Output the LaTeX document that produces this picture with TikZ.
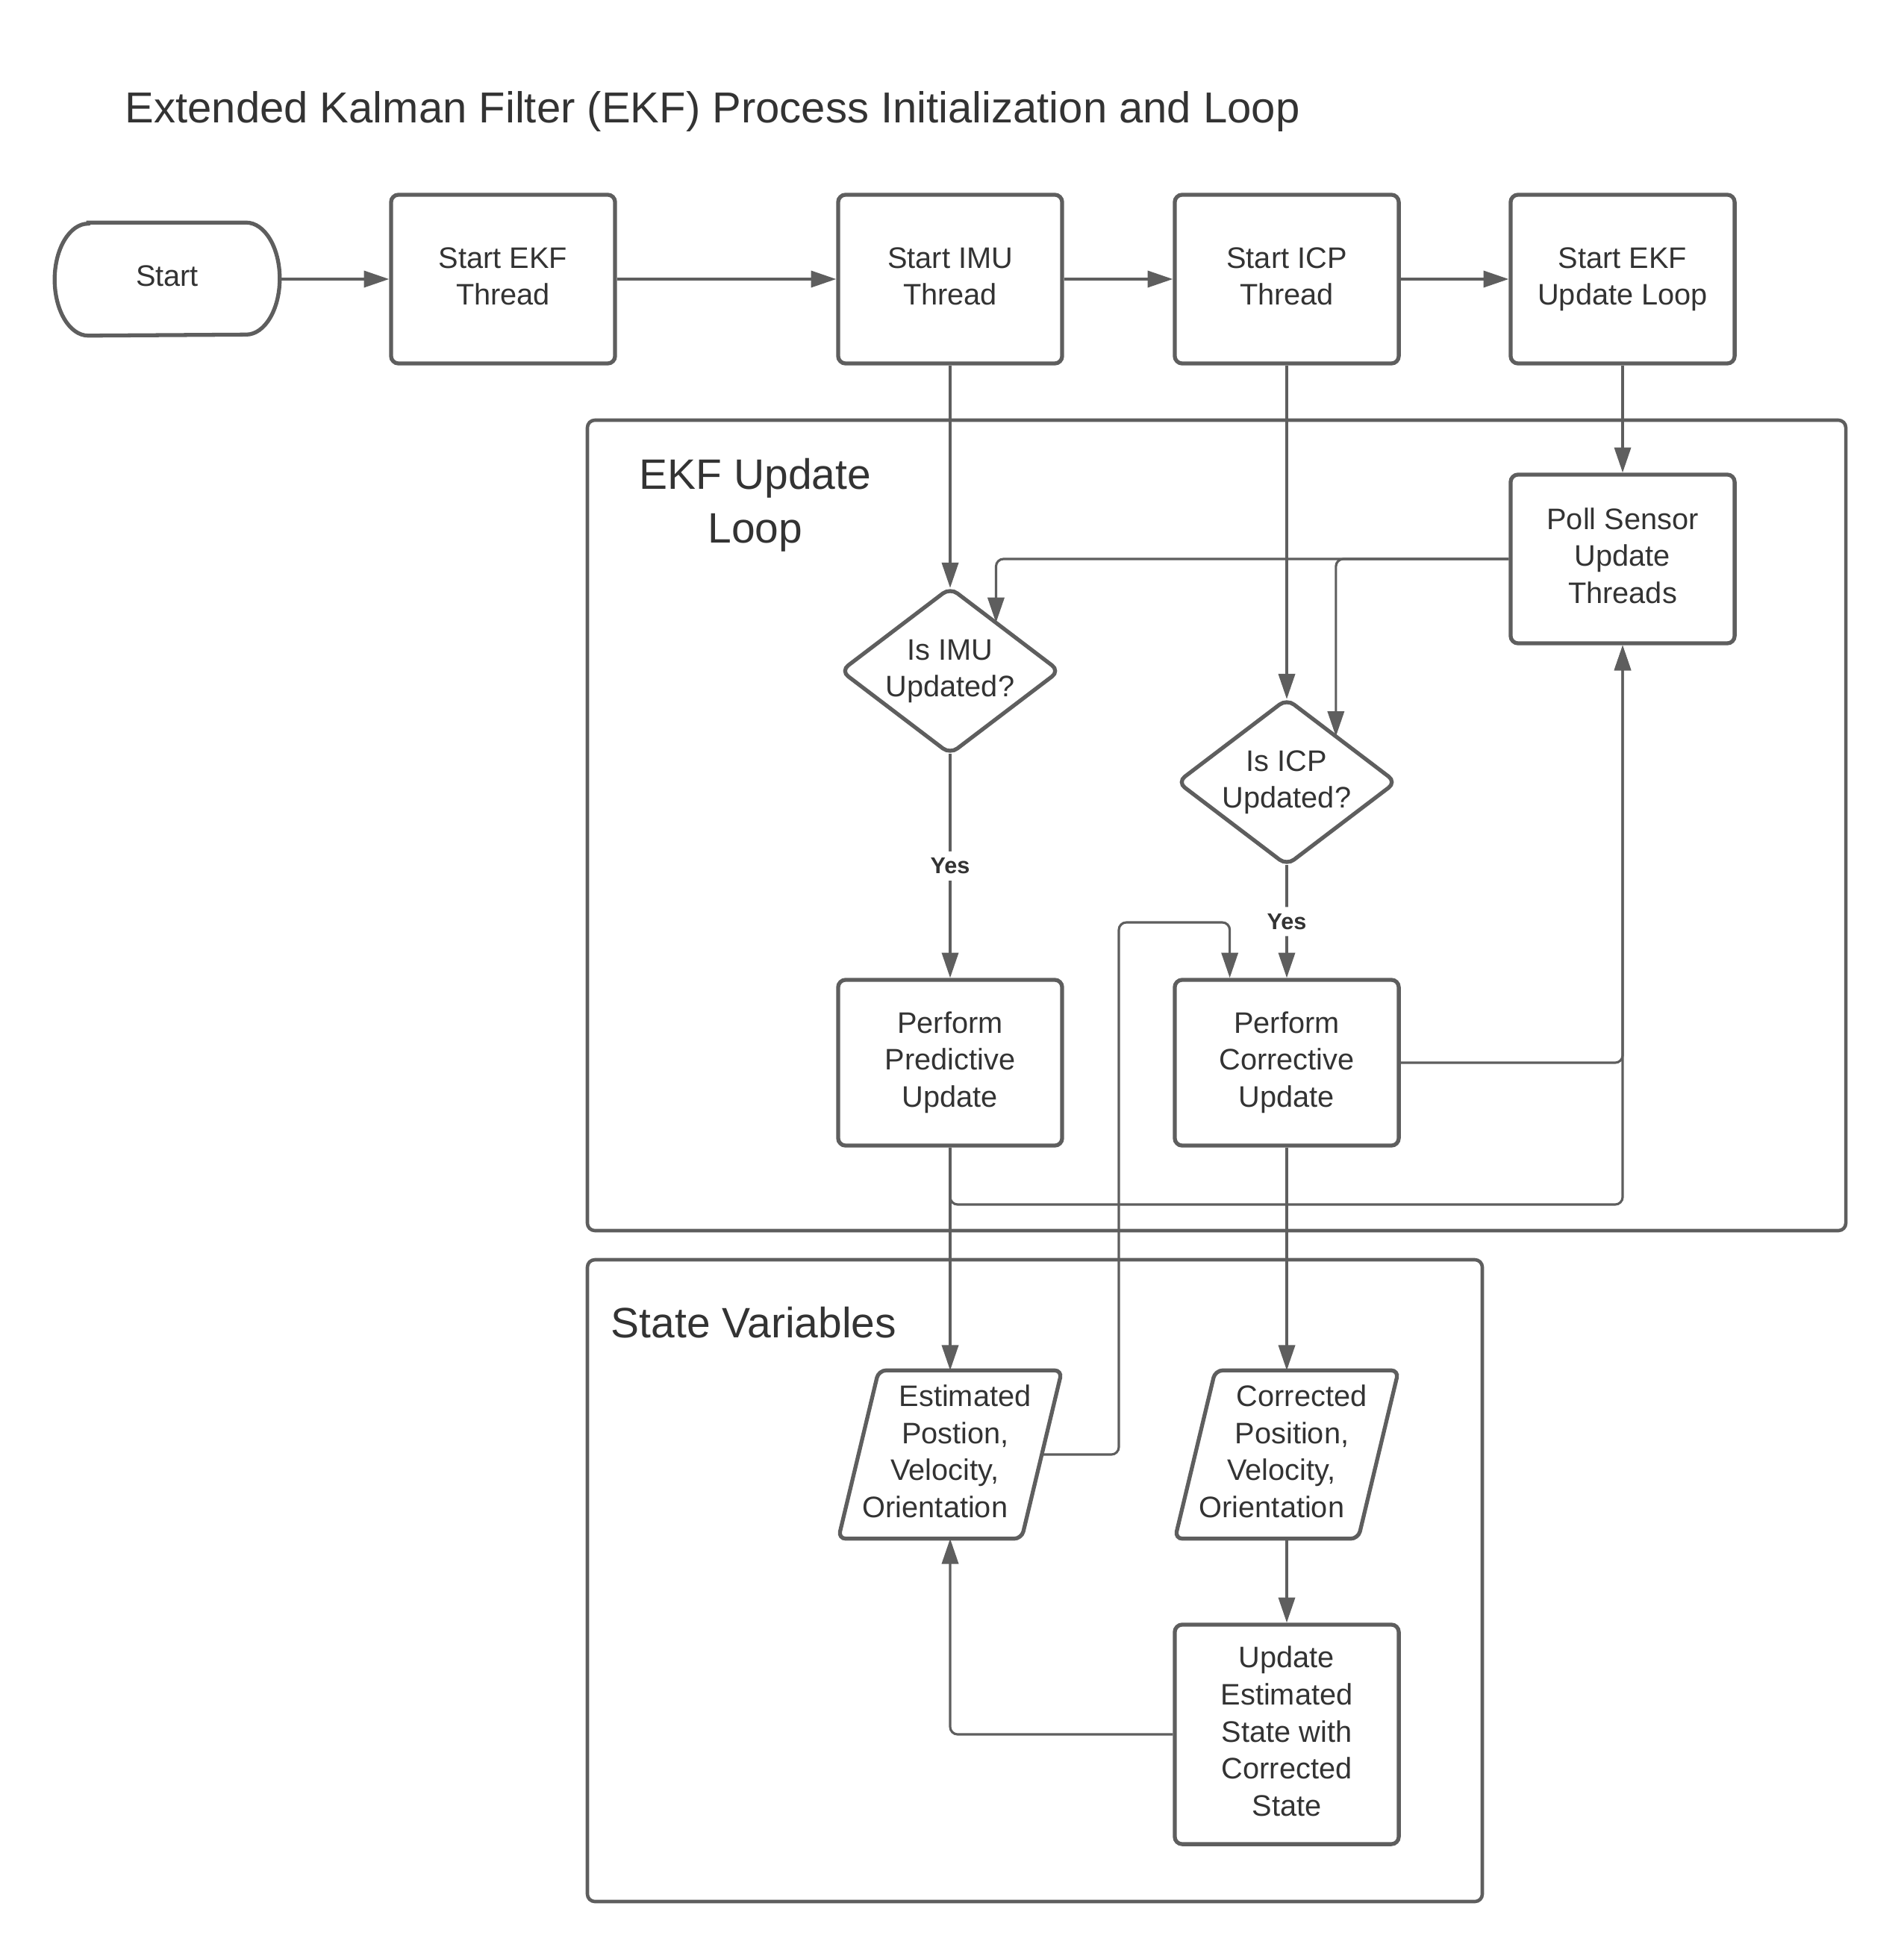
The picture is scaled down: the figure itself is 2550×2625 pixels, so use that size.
\documentclass[tikz,border=0pt]{standalone}
\usepackage{fontspec}
\setmainfont{Liberation Sans}
\usetikzlibrary{arrows.meta,calc}
\definecolor{ln}{HTML}{5E5E5E}
\definecolor{tx}{HTML}{333333}
\newcommand\boxfont{\fontsize{11.3}{14.2}\selectfont}
\newcommand\boxtext[1]{\begin{tabular}{@{}c@{}}#1\end{tabular}}
\begin{document}
\begin{tikzpicture}[x=0.01cm,y=-0.01cm,
  shapeline/.style={draw=ln, line width=1.5pt},
  box/.style={shapeline, fill=white, rounded corners=0.1cm, minimum width=3cm, minimum height=2.26cm, text=tx, font=\boxfont, inner sep=0pt},
  bare/.style={minimum width=2.98cm, minimum height=2.24cm, text=tx, font=\boxfont, inner sep=0pt},
  conn/.style={draw=ln, line width=0.9pt, rounded corners=0.1cm, -{Triangle[length=9.6pt,width=6.3pt]}},
  cframe/.style={draw=ln, line width=1.3pt, rounded corners=0.1cm},
  yes/.style={fill=white, text=tx, font=\fontsize{8.7}{10}\selectfont\bfseries, inner sep=2.5pt},
  biglabel/.style={text=tx, font=\fontsize{16.2}{20.5}\selectfont, inner sep=0pt}
]
\useasboundingbox (0,0) rectangle (2550,2625);

% containers
\draw[cframe] (787,563) rectangle (2473,1649);
\draw[cframe] (787,1688) rectangle (1986,2548);

% labels
\node[biglabel, anchor=base west, font=\fontsize{16.5}{20}\selectfont] (title) at (167,165) {Extended Kalman Filter (EKF) Process Initialization and Loop};
\node[biglabel, align=center] (looplabel) at (1012,677) {EKF Update\\Loop};
\node[biglabel, anchor=base west] (statelabel) at (818,1792) {State Variables};

% start terminal
\node[bare, minimum width=3cm, minimum height=1.5cm] (start) at (224,374) {\boxtext{Start}};
\draw[shapeline] ([xshift=0.45cm]start.north west) -- ([xshift=-0.45cm]start.north east)
  arc[start angle=90, end angle=-90, x radius=0.45cm, y radius=0.75cm]
  -- ([xshift=0.45cm]start.south west)
  arc[start angle=270, end angle=90, x radius=0.45cm, y radius=0.75cm] -- cycle;

% boxes
\node[box] (ekf) at (674,374) {\boxtext{Start EKF\\Thread}};
\node[box] (imu) at (1273,374) {\boxtext{Start IMU\\Thread}};
\node[box] (icp) at (1724,374) {\boxtext{Start ICP\\Thread}};
\node[box] (loop) at (2174,374) {\boxtext{Start EKF\\Update Loop}};
\node[box] (poll) at (2174,749) {\boxtext{Poll Sensor\\Update\\Threads}};

% decisions
\node[bare, minimum width=2.91cm, minimum height=2.21cm] (imuq) at (1273,899) {\boxtext{Is IMU\\Updated?}};
\draw[shapeline, rounded corners=0.12cm] (imuq.north) -- (imuq.east) -- (imuq.south) -- (imuq.west) -- cycle;
\node[bare, minimum width=2.91cm, minimum height=2.21cm] (icpq) at (1724,1048) {\boxtext{Is ICP\\Updated?}};
\draw[shapeline, rounded corners=0.12cm] (icpq.north) -- (icpq.east) -- (icpq.south) -- (icpq.west) -- cycle;

\node[box, minimum height=2.22cm] (pred) at (1273,1424) {\boxtext{Perform\\Predictive\\Update}};
\node[box, minimum height=2.22cm] (corr) at (1724,1424) {\boxtext{Perform\\Corrective\\Update}};

% data (parallelograms)
\node[bare] (est) at (1273,1949) {\boxtext{\hspace*{0.4cm}Estimated\\\hspace*{0.14cm}Postion,\\Velocity,\hspace*{0.14cm}\\Orientation\hspace*{0.4cm}}};
\draw[shapeline, rounded corners=0.1cm] ([xshift=0.54cm]est.north west) -- (est.north east) -- ([xshift=-0.54cm]est.south east) -- (est.south west) -- cycle;
\node[bare] (cst) at (1724,1949) {\boxtext{\hspace*{0.4cm}Corrected\\\hspace*{0.14cm}Position,\\Velocity,\hspace*{0.14cm}\\Orientation\hspace*{0.4cm}}};
\draw[shapeline, rounded corners=0.1cm] ([xshift=0.54cm]cst.north west) -- (cst.north east) -- ([xshift=-0.54cm]cst.south east) -- (cst.south west) -- cycle;

\node[box, minimum height=2.94cm] (upd) at (1724,2324) {\boxtext{Update\\Estimated\\State with\\Corrected\\State}};

% helper coordinates
\coordinate (lowrun) at (2174,1614);
\coordinate (jog) at (1499,1236);

% connectors
\draw[conn] (start.east) -- (ekf.west);
\draw[conn] (ekf.east) -- (imu.west);
\draw[conn] (imu.east) -- (icp.west);
\draw[conn] (icp.east) -- (loop.west);
\draw[conn] (imu.south) -- (imuq.north);
\draw[conn] (icp.south) -- (icpq.north);
\draw[conn] (loop.south) -- (poll.north);
\draw[conn] (poll.west) -| ($(imuq.north)!0.42!(imuq.east)$);
\draw[conn] (poll.west) -| ($(icpq.north)!0.45!(icpq.east)$);
\draw[conn] (imuq.south) -- node[yes] (yes1) {Yes} (pred.north);
\draw[conn] (icpq.south) -- node[yes] (yes2) {Yes} (corr.north);
\draw[conn] (pred.south) -- (est.north);
\draw[conn] (pred.south) |- (lowrun) -- (poll.south);
\draw[conn] (corr.east) -| (poll.south);
\draw[conn] ([xshift=-0.27cm]est.east) -| (jog) -| ($(corr.north west)!0.25!(corr.north east)$);
\draw[conn] (corr.south) -- (cst.north);
\draw[conn] (cst.south) -- (upd.north);
\draw[conn] (upd.west) -| (est.south);
\end{tikzpicture}
\end{document}
